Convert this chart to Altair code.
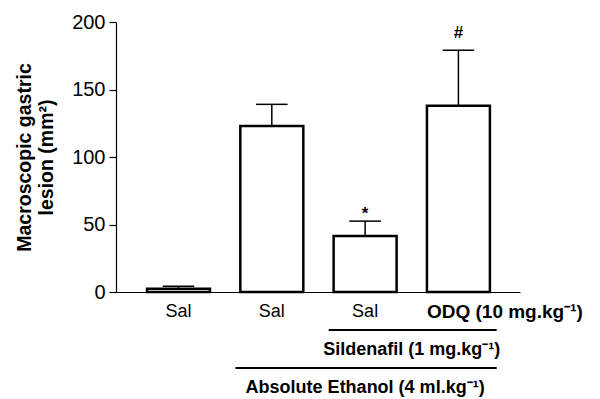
import altair as alt
import pandas as pd

# ---- data ----
positions = [1, 2, 3, 4]
means = [2.5, 123, 41.5, 138]
sems = [1.7, 16, 11, 41]
treatments = ["Sal", "Sal", "Sal", "ODQ (10 mg.kg⁻¹)"]
markers = ["", "", "*", "#"]

bracket_labels = ["Sildenafil (1 mg.kg⁻¹)", "Absolute Ethanol (4 ml.kg⁻¹)"]
bracket_first = [3, 2]
bracket_last = [4, 4]

y_ticks = [0, 50, 100, 150, 200]

FONT = "Liberation Sans"
FS = 18
HALF = 0.3375   # half bar width, in group units

df = pd.DataFrame({"pos": positions, "mean": means, "sem": sems,
                   "treat": treatments, "sig": markers})
df["top"] = df["mean"] + df["sem"]

br = pd.DataFrame({"label": bracket_labels, "first": bracket_first,
                   "last": bracket_last})
br["start"] = br["first"] - 0.39
br["end"] = br["last"] + 0.41
br["mid"] = (br["first"] + br["last"]) / 2

xscale = alt.Scale(domain=[0.33, 4.66], nice=False, zero=False)
yscale = alt.Scale(domain=[0, 200], nice=False)

base = alt.Chart(df)

x_axis = alt.Axis(labels=False, ticks=False, title=None, grid=False,
                  domainColor="black", domainWidth=1.2)
y_axis = alt.Axis(values=y_ticks, grid=False, domainColor="black",
                  domainWidth=1.2, tickColor="black", tickWidth=1.2,
                  tickSize=7, labelFont=FONT, labelFontSize=20,
                  labelColor="black", labelPadding=4,
                  title=["Macroscopic gastric", "lesion (mm²)"],
                  titleFont=FONT, titleFontSize=19.5, titleFontWeight="bold",
                  titleColor="black", titlePadding=15, titleLineHeight=22)

err = base.mark_rule(color="black", strokeWidth=1.5).encode(
    x=alt.X("pos:Q", scale=xscale, axis=x_axis),
    y=alt.Y("mean:Q", scale=yscale, axis=y_axis),
    y2="top:Q",
)
caps = base.transform_calculate(
    c1=f"datum.pos - {HALF / 2}", c2=f"datum.pos + {HALF / 2}"
).mark_rule(color="black", strokeWidth=1.5).encode(
    x="c1:Q", x2="c2:Q", y="top:Q"
)
bars = base.transform_calculate(
    b1=f"datum.pos - {HALF}", b2=f"datum.pos + {HALF}"
).mark_bar(fill="white", stroke="black", strokeWidth=2.5).encode(
    x="b1:Q", x2="b2:Q", y="mean:Q", y2=alt.datum(0)
)
sig = base.transform_filter("datum.sig != ''").transform_calculate(
    ly="datum.top + (datum.sig == '#' ? 12.5 : 5)"
).mark_text(font=FONT, fontSize=17, fontWeight="bold", color="black",
            baseline="middle").encode(
    x="pos:Q", y="ly:Q", text="sig:N"
)

sal = base.transform_filter("datum.treat == 'Sal'").mark_text(
    font=FONT, fontSize=FS, color="black", baseline="middle"
).encode(x="pos:Q", y=alt.value(290), text="treat:N")

odq = base.transform_filter("datum.treat != 'Sal'").transform_calculate(
    lx=f"datum.pos - {HALF}"
).mark_text(font=FONT, fontSize=19, fontWeight="bold", color="black",
            baseline="middle", align="left").encode(
    x="lx:Q", y=alt.value(290), text="treat:N"
)

layers = [err, caps, bars, sig, sal, odq]

# bracket rows below the axis (row layout only)
line_rows = [308, 346]
text_rows = [328, 366]
for i, lab in enumerate(bracket_labels):
    sub = alt.Chart(br).transform_filter(alt.datum.label == lab)
    layers.append(sub.mark_rule(color="black", strokeWidth=2).encode(
        x="start:Q", x2="end:Q", y=alt.value(line_rows[i])))
    layers.append(sub.mark_text(font=FONT, fontSize=FS, fontWeight="bold",
                                color="black", baseline="middle").encode(
        x="mid:Q", y=alt.value(text_rows[i]), text="label:N"))

chart = alt.layer(*layers).properties(
    width=404, height=270,
    autosize=alt.AutoSizeParams(type="none"),
    padding={"left": 116, "top": 22, "right": 80, "bottom": 107},
    background="white",
).configure_view(stroke=None)

chart.save("out.html", embed_options={"renderer": "svg", "actions": False})
